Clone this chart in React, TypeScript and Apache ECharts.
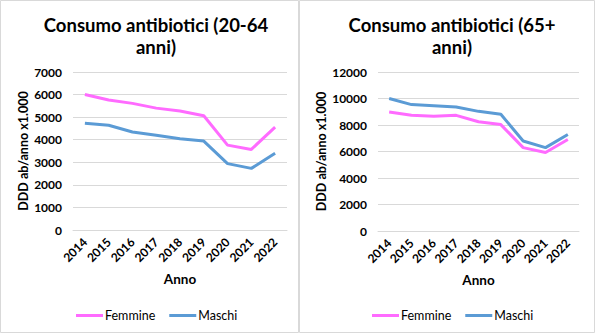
import { useEffect, useRef } from "react";
import * as echarts from "echarts";

const years = ["2014", "2015", "2016", "2017", "2018", "2019", "2020", "2021", "2022"];
const femmine2064 = [6000, 5760, 5610, 5400, 5270, 5060, 3760, 3570, 4560];
const maschi2064 = [4730, 4640, 4340, 4200, 4040, 3940, 2940, 2730, 3400];
const femmine65 = [8980, 8730, 8660, 8730, 8250, 8030, 6290, 5920, 6900];
const maschi65 = [10000, 9540, 9460, 9360, 9030, 8810, 6790, 6290, 7280];

const title1 = "Consumo antibiotici (20-64\nanni)";
const title2 = "Consumo antibiotici (65+\nanni)";
const yName = "DDD ab/anno x1.000";
const xName = "Anno";
const seriesNames = ["Femmine", "Maschi"];

const PINK = "#FF6BFF";
const BLUE = "#5B9BD5";
const GRID = "#D9D9D9";
const FONT = "Lato";
const TXT = "#000000";

export default function App() {
  const ref = useRef<HTMLDivElement>(null);
  useEffect(() => {
    document.body.style.margin = "0";
    const chart = echarts.init(ref.current!, null, { renderer: "svg" });
    const xAxisBase = (gridIndex: number) => ({
      type: "category" as const,
      gridIndex,
      data: years,
      boundaryGap: true,
      axisLine: { show: true, lineStyle: { color: GRID, width: 1 } },
      axisTick: { show: false },
      axisLabel: {
        rotate: 45,
        margin: 10,
        fontFamily: FONT,
        fontWeight: "bold" as const,
        fontSize: 12,
        color: TXT,
        interval: 0,
      },
      name: xName,
      nameLocation: "middle" as const,
      nameGap: 42,
      nameTextStyle: { fontFamily: FONT, fontWeight: "bold" as const, fontSize: 13.5, color: TXT },
    });
    const yAxisBase = (gridIndex: number, max: number, interval: number, nameGap: number) => ({
      type: "value" as const,
      gridIndex,
      min: 0,
      max,
      interval,
      axisLine: { show: false },
      axisTick: { show: false },
      splitLine: { lineStyle: { color: GRID, width: 1 } },
      axisLabel: {
        margin: 11,
        fontFamily: FONT,
        fontWeight: "bold" as const,
        fontSize: 12,
        color: TXT,
        formatter: (v: number) => String(v),
      },
      name: yName,
      nameLocation: "middle" as const,
      nameGap,
      nameRotate: 90,
      nameTextStyle: { fontFamily: FONT, fontWeight: "bold" as const, fontSize: 12.5, color: TXT },
    });
    const lineSeries = (name: string, data: number[], color: string, idx: number) => ({
      type: "line" as const,
      name,
      data,
      xAxisIndex: idx,
      yAxisIndex: idx,
      showSymbol: false,
      symbol: "none",
      lineStyle: { color, width: 3 },
      itemStyle: { color },
      z: name === "Femmine" ? 3 : 2,
    });
    const legendBase = (left: number) => ({
      left,
      top: 304,
      data: seriesNames,
      icon: "rect",
      itemWidth: 27,
      itemHeight: 3,
      itemGap: 14,
      selectedMode: false,
      textStyle: { fontFamily: FONT, fontSize: 12.5, color: TXT, padding: [0, 0, 0, -3] },
    });
    const titleBase = (text: string, left: number) => ({
      text,
      left,
      top: 9,
      textAlign: "center" as const,
      textStyle: {
        fontFamily: FONT,
        fontWeight: "bold" as const,
        fontSize: 18.5,
        lineHeight: 22,
        color: TXT,
      },
    });
    chart.setOption({
      animation: false,
      backgroundColor: "#FFFFFF",
      title: [titleBase(title1, 151), titleBase(title2, 447)],
      legend: [legendBase(71), legendBase(367)],
      grid: [
        { left: 73, top: 72, width: 214, height: 158 },
        { left: 378, top: 72, width: 201, height: 159 },
      ],
      xAxis: [xAxisBase(0), xAxisBase(1)],
      yAxis: [yAxisBase(0, 7000, 1000, 42), yAxisBase(1, 12000, 2000, 46)],
      series: [
        lineSeries(seriesNames[0], femmine2064, PINK, 0),
        lineSeries(seriesNames[1], maschi2064, BLUE, 0),
        lineSeries(seriesNames[0], femmine65, PINK, 1),
        lineSeries(seriesNames[1], maschi65, BLUE, 1),
      ],
      graphic: [
        {
          type: "rect",
          shape: { x: 0.5, y: 0.5, width: 298, height: 332 },
          style: { fill: "none", stroke: GRID, lineWidth: 1 },
          silent: true,
        },
        {
          type: "rect",
          shape: { x: 299.5, y: 0.5, width: 295, height: 332 },
          style: { fill: "none", stroke: GRID, lineWidth: 1 },
          silent: true,
        },
      ],
    });
    return () => chart.dispose();
  }, []);
  return <div ref={ref} style={{ width: 595, height: 334 }} />;
}
